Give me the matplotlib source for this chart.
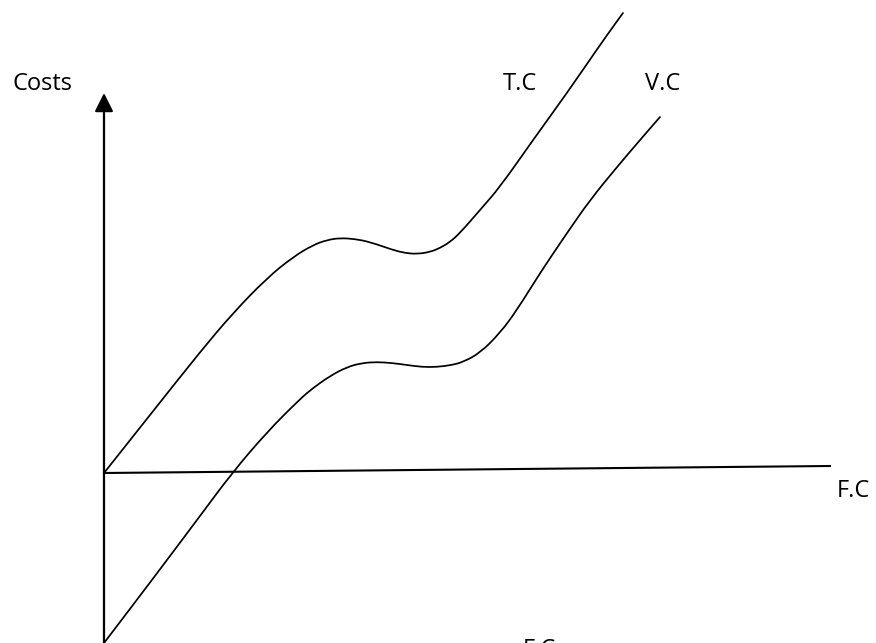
import matplotlib
matplotlib.use("Agg")
import matplotlib.pyplot as plt
from matplotlib.patches import FancyArrowPatch, PathPatch
from matplotlib.path import Path

# Total cost curve (quantity, cost)
tc_x = [0, 46, 96, 129, 163, 189, 209, 223, 236, 251, 266, 289, 301, 313, 326, 336,
        346, 356, 376, 396, 429, 463, 496, 511, 519]
tc_y = [0, 58, 121, 160, 195, 216, 228, 233, 235, 234, 231, 223, 220, 219, 221, 225,
        231, 240, 263, 286, 333, 380, 428, 449, 460]

# Variable cost curve
vc_x = [0, 29, 63, 96, 128, 163, 196, 209, 226, 243, 258, 273, 288, 303, 318, 333,
        348, 359, 376, 396, 413, 436, 463, 486, 513, 536, 556]
vc_y = [-170, -132, -87, -43, 0, 41, 74, 85, 97, 106, 110, 111, 110, 108, 106, 106,
        108, 111, 120, 140, 163, 200, 240, 273, 306, 333, 356]

# Fixed cost line
fc_x = [0, 726]
fc_y = [0, 7]

labels = {"costs": "Costs", "tc": "T.C", "vc": "V.C", "fc": "F.C"}

plt.rcParams['font.family'] = ['Open Sans', 'DejaVu Sans']


def smooth_path(xs, ys):
    """Quadratic-Bezier path through the read points (points act as control points)."""
    pts = list(zip(xs, ys))
    verts = [pts[0]]
    codes = [Path.MOVETO]
    n = len(pts)
    for i in range(1, n - 1):
        cx, cy = pts[i]
        if i < n - 2:
            ex = (pts[i][0] + pts[i + 1][0]) / 2.0
            ey = (pts[i][1] + pts[i + 1][1]) / 2.0
        else:
            ex, ey = pts[n - 1]
        verts += [(cx, cy), (ex, ey)]
        codes += [Path.CURVE3, Path.CURVE3]
    return Path(verts, codes)


fig = plt.figure(figsize=(8.76, 6.43), dpi=100)
ax = fig.add_axes([0, 0, 1, 1])
ax.set_xlim(-104, 772)
ax.set_ylim(-170, 473)
ax.axis('off')

for xs, ys in [(tc_x, tc_y), (vc_x, vc_y)]:
    ax.add_patch(PathPatch(smooth_path(xs, ys), facecolor='none', edgecolor='black',
                           lw=1.25, capstyle='round', joinstyle='round'))
ax.plot(fc_x, fc_y, color='black', lw=1.5)

arrow = FancyArrowPatch((0, -175), (0, 380),
                        arrowstyle='-|>,head_length=0.75,head_width=0.375',
                        mutation_scale=15, color='black', lw=1.6,
                        shrinkA=0, shrinkB=0)
ax.add_patch(arrow)

fs = 17
ax.text(-91, 383, labels["costs"], fontsize=fs, ha='left', va='baseline')
ax.text(399, 383, labels["tc"], fontsize=fs, ha='left', va='baseline')
ax.text(541, 383, labels["vc"], fontsize=fs, ha='left', va='baseline')
ax.text(733, -24, labels["fc"], fontsize=fs, ha='left', va='baseline')
ax.text(419, -183, labels["fc"], fontsize=fs, ha='left', va='baseline')

fig.savefig("out.png", dpi=100)
